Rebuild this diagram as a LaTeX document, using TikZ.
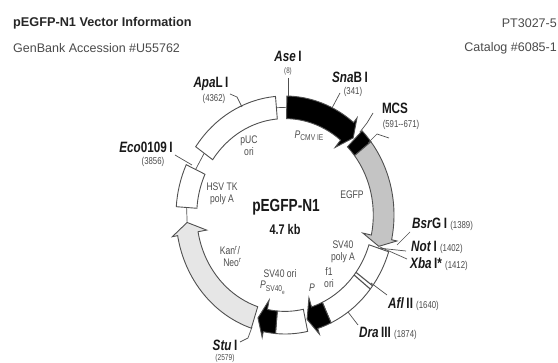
\documentclass[tikz,border=0pt]{standalone}
\usepackage{fontspec}
\setmainfont{Liberation Sans}
\newfontfamily\narrowfont[FakeStretch=0.78]{Liberation Sans}
\usepackage{tikz}
\usetikzlibrary{calc}
\definecolor{linegray}{HTML}{505050}
\definecolor{textgray}{HTML}{4A4A4A}
\definecolor{egfpgray}{HTML}{C4C4C4}
\definecolor{kangray}{HTML}{E6E6E6}
\tikzset{
  band/.style={draw=linegray,line width=0.9pt,line join=miter},
  leader/.style={draw=linegray,line width=0.7pt},
  headtxt/.style={inner sep=0pt,font=\fontsize{12.7}{14}\selectfont\bfseries,text=black!85},
  subtxt/.style={inner sep=0pt,font=\fontsize{12.5}{14}\selectfont,text=textgray},
  sitetxt/.style={inner sep=0pt,font=\narrowfont\fontsize{15}{17}\selectfont\bfseries,text=black!90},
  postxt/.style={inner sep=0pt,font=\narrowfont\fontsize{10}{11}\selectfont,text=textgray},
  feattxt/.style={inner sep=0pt,align=center,font=\narrowfont\fontsize{11}{12}\selectfont,text=black!70},
}
\newcommand{\sitepos}[1]{{\narrowfont\mdseries\upshape\fontsize{10}{11}\selectfont\textcolor{textgray}{#1}}}
\newcommand{\ringbox}[3]{%
  \draw[band,#1] (#2:100) arc[start angle=#2,end angle=#3,radius=100]
    -- (#3:81) arc[start angle=#3,end angle=#2,radius=81] -- cycle;}
\newcommand{\ringarrow}[4]{%
  \draw[band,#1] (#2:100) arc[start angle=#2,end angle=#3,radius=100]
    -- (#3:105) -- (#4:90) -- (#3:73) -- (#3:81)
    arc[start angle=#3,end angle=#2,radius=81] -- cycle;}
\begin{document}
\begin{tikzpicture}[x=1pt,y=-1pt]
\useasboundingbox (0,0) rectangle (558,363);
% header
\node[headtxt,anchor=west] (title) at (13,23) {pEGFP-N1 Vector Information};
\node[subtxt,anchor=west] (genbank) at (13,48) {GenBank Accession \#U55762};
\node[subtxt,anchor=east] (partno) at (557,23) {PT3027-5};
\node[subtxt,anchor=east] (catalog) at (557,48) {Catalog \#6085-1};
% ring
\begin{scope}[shift={(285,215)},x=1.09pt,y=1.19pt]
  \ringarrow{fill=black}{89}{51}{46}
  \ringbox{fill=black}{45}{38}
  \ringarrow{fill=egfpgray}{38}{-12}{-17}
  \ringbox{fill=white}{-18}{-65}
  \ringarrow{fill=black}{-65}{-72.5}{-77}
  \ringbox{fill=white}{-78}{-95}
  \ringarrow{fill=black}{-95}{-101.5}{-106}
  \ringarrow{fill=kangray}{252}{190}{184}
  \ringbox{fill=white}{155}{176}
  \ringbox{fill=white}{95}{145}
  % joins between the segments
  \draw[leader] (95:90.5) -- (89:90.5);
  \draw[leader] (145:90.5) -- (155:90.5);
  \draw[leader] (176:90.5) -- (184:90);
  % double bar of the Afl II site
  \draw[leader,line width=1.1pt] (-36.5:81) -- (-36.5:100);
  \draw[leader,line width=1.1pt] (-38.5:81) -- (-38.5:100);
\end{scope}
% sites
\node[sitetxt] (ase) at (288,56.5) {\textit{Ase}\,I};
\node[postxt,font=\narrowfont\fontsize{8}{9}\selectfont] (asepos) at (288,71) {(8)};
\node[sitetxt] (sna) at (350,77) {\textit{Sna}B\,I};
\node[postxt] (snapos) at (353,91.5) {(341)};
\node[sitetxt] (mcs) at (395,108) {MCS};
\node[postxt] (mcspos) at (401,125) {(591--671)};
\node[sitetxt,anchor=west] (bsr) at (412,224) {\textit{Bsr}G\,I \sitepos{(1389)}};
\node[sitetxt,anchor=west] (not) at (411,247) {\textit{Not}\,I \sitepos{(1402)}};
\node[sitetxt,anchor=west] (xba) at (410,264) {\textit{Xba}\,I* \sitepos{(1412)}};
\node[sitetxt,anchor=west] (afl) at (388,304) {\textit{Afl}\,II \sitepos{(1640)}};
\node[sitetxt,anchor=west] (dra) at (359,333) {\textit{Dra}\,III \sitepos{(1874)}};
\node[sitetxt] (stu) at (225,345.5) {\textit{Stu}\,I};
\node[postxt,font=\narrowfont\fontsize{8.5}{9}\selectfont] (stupos) at (225,358.5) {(2579)};
\node[sitetxt] (eco) at (146,147) {\textit{Eco}0109\,I};
\node[postxt] (ecopos) at (153,161.5) {(3856)};
\node[sitetxt] (apa) at (211,84) {\textit{Apa}L\,I};
\node[postxt] (apapos) at (214,98.5) {(4362)};
% free ends of the leaders
\coordinate (asetop) at (288,78);
\coordinate (asefoot) at (288,96);
\coordinate (snatop) at (340,93);
\coordinate (snafoot) at (332,108);
\coordinate (mcsa) at (360,132);
\coordinate (mcsb) at (367,123);
\coordinate (mcsc) at (373,113);
\coordinate (mcsd) at (368,143);
\coordinate (mcse) at (377,134);
\coordinate (mcsf) at (389,138);
\coordinate (bsrtop) at (410,232);
\coordinate (bsrfoot) at (397,245);
\coordinate (nottop) at (406,251);
\coordinate (notfoot) at (378,248);
\coordinate (xbatop) at (407,259);
\coordinate (xbafoot) at (380,247);
\coordinate (afltop) at (387,295);
\coordinate (aflfoot) at (371,283);
\coordinate (dratop) at (358,325);
\coordinate (drafoot) at (348,312);
\coordinate (stua) at (252,327);
\coordinate (stub) at (248,338);
\coordinate (stuc) at (240,342);
\coordinate (ecotop) at (175,155);
\coordinate (ecofoot) at (192,165);
\coordinate (apaa) at (230,94);
\coordinate (apab) at (237,97);
\coordinate (apac) at (242,107);
\draw[leader] (asetop) -- (asefoot);
\draw[leader] (snatop) -- (snafoot);
\draw[leader] (mcsa) -- (mcsb) -- (mcsc);
\draw[leader] (mcsd) -- (mcse) -- (mcsf);
\draw[leader] (bsrtop) -- (bsrfoot);
\draw[leader] (nottop) -- (notfoot);
\draw[leader] (xbatop) -- (xbafoot);
\draw[leader] (afltop) -- (aflfoot);
\draw[leader] (dratop) -- (drafoot);
\draw[leader] (stua) -- (stub) -- (stuc);
\draw[leader] (ecotop) -- (ecofoot);
\draw[leader] (apaa) -- (apab) -- (apac);
% features
\node[feattxt] (puc) at (249,146) {pUC\\ori};
\node[feattxt] (pcmv) at (309,136) {\textit{P}\raisebox{-2pt}{\fontsize{8.5}{9}\selectfont CMV IE}};
\node[feattxt] (egfp) at (352,195) {EGFP};
\node[feattxt] (polya) at (343,252) {SV40\\poly A};
\node[feattxt] (fone) at (329,278) {f1\\ori};
\node[feattxt] (psmall) at (312,288) {\textit{P}};
\node[feattxt] (svori) at (280,274) {SV40 ori};
\node[feattxt,anchor=west] (psv) at (260,288) {\textit{P}\raisebox{-3pt}{\fontsize{8.5}{9}\selectfont SV40\raisebox{-2pt}{\textsubscript{e}}}};
\node[feattxt] (kan) at (230,256) {Kan\textsuperscript{r}/\\\ \ Neo\textsuperscript{r}};
\node[feattxt] (hsv) at (222,194) {HSV TK\\poly A};
\node[inner sep=0pt,font=\narrowfont\fontsize{17.5}{19}\selectfont\bfseries,text=black!90] (name) at (286,207) {pEGFP-N1};
\node[inner sep=0pt,font=\narrowfont\fontsize{14}{16}\selectfont\bfseries,text=black!90] (size) at (285,229) {4.7 kb};
\end{tikzpicture}
\end{document}
